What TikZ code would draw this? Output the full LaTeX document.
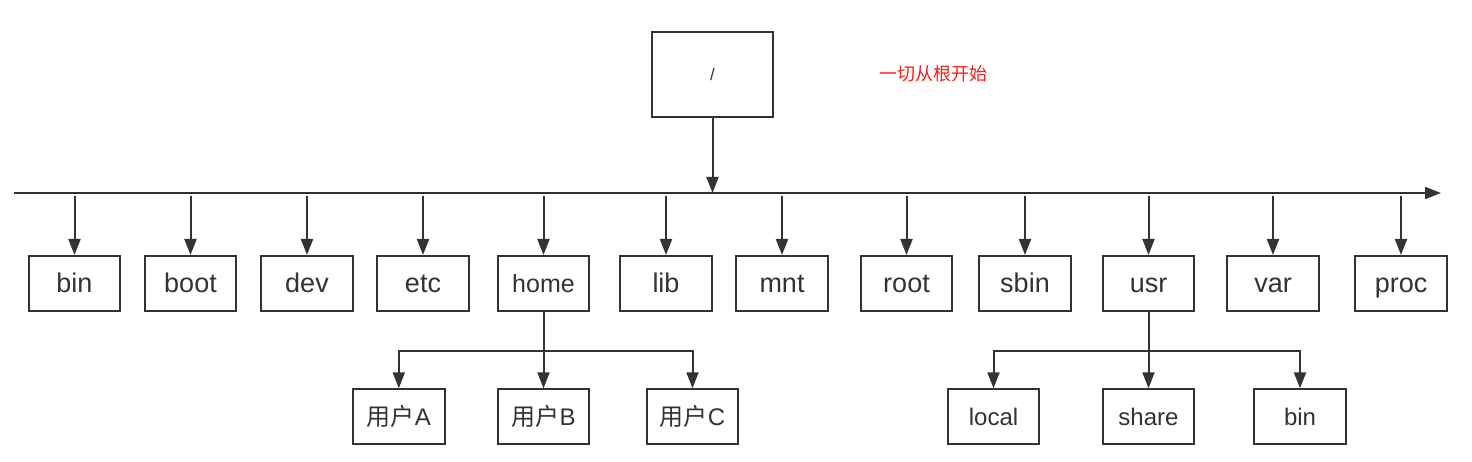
\documentclass[tikz,border=0pt]{standalone}
\usepackage{fontspec}
\setmainfont{Liberation Sans}
\newfontfamily\cjk{Noto Sans CJK SC}
\usetikzlibrary{arrows.meta}
\definecolor{ink}{HTML}{333333}
\definecolor{note}{HTML}{FF1A1A}
\tikzset{
  dirbox/.style={draw=ink, line width=2pt, minimum width=91.5pt, minimum height=55pt, inner sep=0pt, text=ink, font=\fontsize{27}{27}\selectfont, text height=17pt, text depth=0pt},
  subbox/.style={dirbox, font=\fontsize{24}{24}\selectfont, text height=16.4pt},
  arr/.style={draw=ink, line width=2pt, -{Triangle[length=16pt,width=12pt]}},
}
\begin{document}
\begin{tikzpicture}[x=1pt,y=-1pt]
\useasboundingbox[fill=white] (0,0) rectangle (1472,462);
% root
\node[draw=ink, line width=2pt, minimum width=121.5pt, minimum height=85pt, inner sep=0pt, text=ink, font=\fontsize{17}{17}\selectfont] (root) at (712.5,74.8) {/};
\node[text=note, font=\cjk\fontsize{18}{18}\selectfont, inner sep=0pt] (note) at (933,74) {一切从根开始};
% bus
\coordinate (busL) at (14,193);
\coordinate (busR) at (1441,193);
\draw[arr] (busL) -- (busR);
\draw[arr] (root.south) -- (root.south |- busL);
% first level
\node[dirbox] (bin) at (74.5,283.5) {bin};
\node[dirbox] (boot) at (190.5,283.5) {boot};
\node[dirbox] (dev) at (307,283.5) {dev};
\node[dirbox] (etc) at (423,283.5) {etc};
\node[dirbox, font=\fontsize{25}{25}\selectfont, text height=18.4pt] (home) at (543.5,283.5) {home};
\node[dirbox] (lib) at (666,283.5) {lib};
\node[dirbox] (mnt) at (782,283.5) {mnt};
\node[dirbox] (rootd) at (906.5,283.5) {root};
\node[dirbox] (sbin) at (1025,283.5) {sbin};
\node[dirbox] (usr) at (1148.5,283.5) {usr};
\node[dirbox] (var) at (1273,283.5) {var};
\node[dirbox] (proc) at (1401,283.5) {proc};
\foreach \n in {bin,boot,dev,etc,home,lib,mnt,rootd,sbin,usr,var,proc}{
  \draw[arr] ([yshift=-3pt]\n.north |- busL) -- (\n.north);
}
% home children
\node[subbox] (uA) at (398.8,416.8) {{\cjk 用户}A};
\node[subbox] (uB) at (543.5,416.8) {{\cjk 用户}B};
\node[subbox] (uC) at (692.5,416.8) {{\cjk 用户}C};
\coordinate (hj) at (543.5,350.5);
\draw[arr] (hj) -| (uA.north);
\draw[arr] (hj) -| (uC.north);
\draw[arr] (home.south) -- (uB.north);
% usr children
\node[subbox] (local) at (993.5,416.8) {local};
\node[subbox] (share) at (1148.5,416.8) {share};
\node[subbox] (ubin) at (1300,416.8) {bin};
\coordinate (uj) at (1148.5,350.5);
\draw[arr] (uj) -| (local.north);
\draw[arr] (uj) -| (ubin.north);
\draw[arr] (usr.south) -- (share.north);
\end{tikzpicture}
\end{document}
